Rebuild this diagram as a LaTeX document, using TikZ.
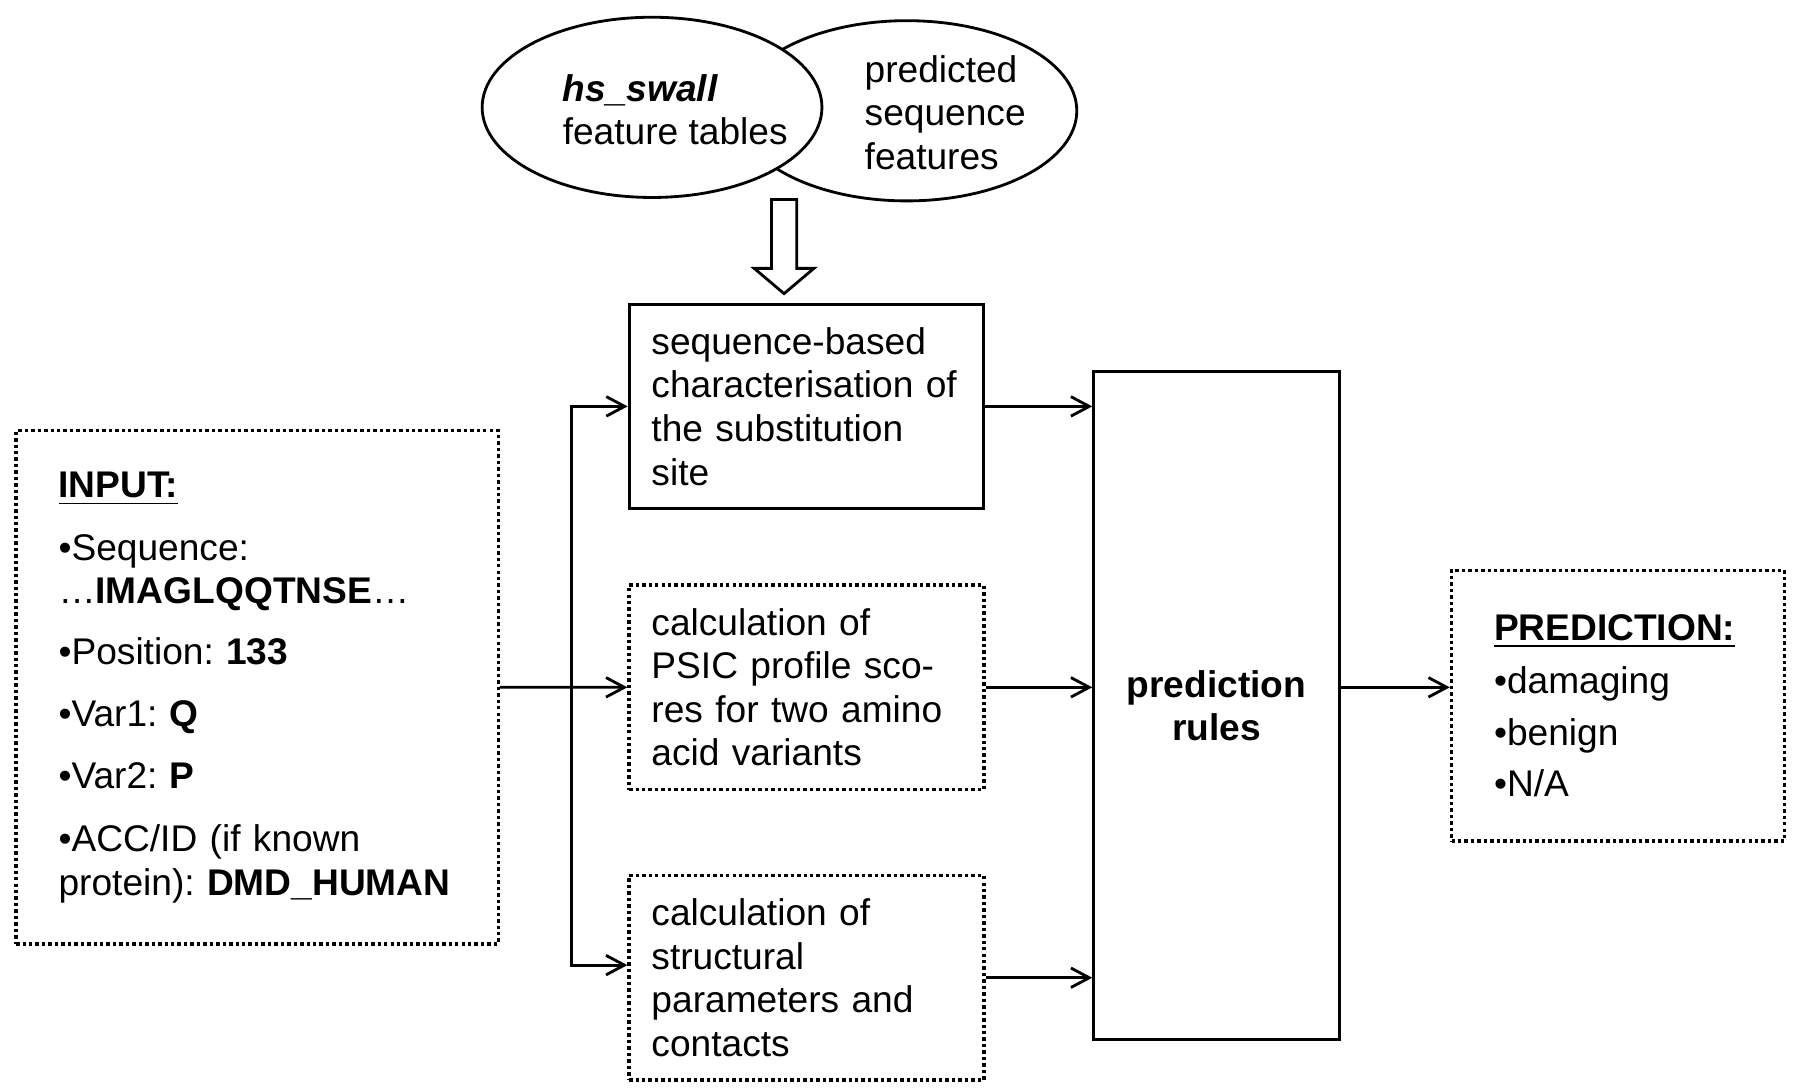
\documentclass[tikz,border=0pt]{standalone}
\usepackage{fontspec}
\setmainfont{Liberation Sans}
\usepackage{tikz}
\usetikzlibrary{arrows.meta}
\usetikzlibrary{shapes.geometric}
\usetikzlibrary{positioning}
\usetikzlibrary{calc}
\tikzset{
  % open arrow heads as in the figure
  >={Straight Barb[length=1.6mm,width=1.7mm]},
  % Common styles for diagrams
  line/.style={draw, ->},
  dotbox/.style={draw, dash pattern=on 0.85pt off 0.75pt, line width=0.85pt}
}

\begin{document}
\begin{tikzpicture}[line width=0.7pt, font=\fontsize{9.2}{10.8}\selectfont\frenchspacing]
    % Define styles
    \tikzstyle{block} = [rectangle, draw, text width=2.7cm, inner xsep=0.195cm, minimum height=1.78cm, align=left]
    \tikzstyle{oval} = [ellipse, draw, fill=white, minimum width=2.96cm, minimum height=1.57cm]
    \tikzstyle{listbox} = [rectangle, dotbox, align=left]

    \useasboundingbox (0,0) rectangle (15.68,-9.478);

    % Place nodes
    \node [oval] (predicted) at (7.90,-0.965) {};
    \node [oval] (swall) at (5.68,-0.935) {};
    \node [align=left, anchor=west, inner sep=0pt] (swalltext) at (4.89,-0.955) {\textbf{\textit{hs\_swall}}\\feature tables};
    \node [align=left, anchor=west, inner sep=0pt] (predtext) at (7.52,-0.98) {predicted\\sequence\\features};

    \node [block] (seqbox) at (7.025,-3.54) {sequence-based\\characterisation of\\the substitution\\site};
    \node [block, dotbox, below=0.64cm of seqbox] (psic) {calculation of\\PSIC profile sco-\\res for two amino\\acid variants};
    \node [block, dotbox, below=0.72cm of psic] (struct) {calculation of\\structural\\parameters and\\contacts};

    \node [listbox, text width=3.46cm, inner xsep=0.37cm, minimum height=4.47cm, left=1.11cm of psic] (input)
      {\underline{\textbf{INPUT:}}\\[4.8pt]
       •Sequence:\\
       …\textbf{IMAGLQQTNSE}…\\[4.2pt]
       •Position: \textbf{133}\\[4.6pt]
       •Var1: \textbf{Q}\\[4.6pt]
       •Var2: \textbf{P}\\[4.8pt]
       •ACC/ID (if known\\
       protein): \textbf{DMD\_HUMAN}};

    \node [rectangle, draw, minimum width=2.14cm, minimum height=5.82cm, align=center, right=0.93cm of psic, yshift=-0.16cm] (rules) {\textbf{prediction}\\\textbf{rules}};

    \node [listbox, text width=2.16cm, inner xsep=0.37cm, minimum height=2.36cm, right=0.95cm of rules] (output)
      {\underline{\textbf{PREDICTION:}}\\[2.4pt]
       •damaging\\[2pt]
       •benign\\[2pt]
       •N/A};

    % hollow arrow from the feature sources
    \coordinate (feedtip) at ([xshift=-0.195cm, yshift=0.08cm]seqbox.north);
    \draw (feedtip) -- ++(-0.26,0.22) -- ++(0.15,0) -- ++(0,0.60) -- ++(0.22,0) -- ++(0,-0.60) -- ++(0.15,0) -- cycle;

    % Draw edges
    \coordinate (split) at ($(input.east)!0.56!(psic.west)$);
    \draw (input.east) -- (split);
    \path [line] (split) |- (seqbox.west);
    \path [line] (split) -- (psic.west);
    \path [line] (split) |- ([yshift=0.11cm]struct.west);
    \path [line] (seqbox.east) -- (seqbox.east -| rules.west);
    \path [line] (psic.east) -- (psic.east -| rules.west);
    \path [line] (struct.east) -- (struct.east -| rules.west);
    \path [line] (rules.east |- psic.east) -- (output.west |- psic.east);

\end{tikzpicture}
\end{document}
